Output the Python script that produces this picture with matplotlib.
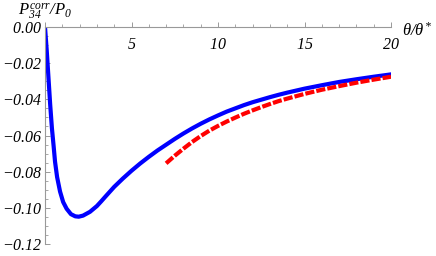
import matplotlib
matplotlib.use("Agg")
import matplotlib.pyplot as plt
from matplotlib.ticker import MultipleLocator, FuncFormatter

# values
theta_full = [0, 0.05, 0.1, 0.19, 0.3, 0.4, 0.5, 0.58, 0.7, 0.87, 1.05, 1.25,
              1.5, 1.75, 1.95, 2.2, 2.6, 3.0, 3.25, 3.5, 4.0, 4.5, 5.0, 5.5,
              6.0, 6.5, 7.0, 7.5, 8.0, 8.5, 9.0, 9.5, 10.0, 10.5, 11.0, 11.5,
              12.0, 12.5, 13.0, 13.5, 14.0, 15.0, 16.0, 17.0, 18.0, 19.0, 20.0]
p_full = [0, -0.0065, -0.013, -0.0265, -0.043, -0.056, -0.066, -0.0745, -0.0830,
          -0.0910, -0.0968, -0.1005, -0.1035, -0.1047, -0.1049, -0.1043, -0.1022,
          -0.0990, -0.0964, -0.0937, -0.0884, -0.0838, -0.0795, -0.0755,
          -0.0718, -0.0683, -0.0651, -0.0619, -0.0589, -0.0561, -0.0535, -0.0511,
          -0.0489, -0.0468, -0.0450, -0.0432, -0.0416, -0.0402, -0.0388, -0.0375,
          -0.0363, -0.0341, -0.0322, -0.0304, -0.0289, -0.0275, -0.0262]

theta_asym = [7.0, 7.5, 8.0, 8.5, 9.0, 9.5, 10.0, 10.5, 11.0, 11.5, 12.0, 12.5,
              13.0, 13.5, 14.0, 15.0, 16.0, 17.0, 18.0, 19.0, 20.0]
p_asym = [-0.0754, -0.0712, -0.0673, -0.0636, -0.0603, -0.0573, -0.0547, -0.0523,
          -0.0501, -0.0480, -0.0461, -0.0443, -0.0426, -0.0410, -0.0396, -0.0370,
          -0.0347, -0.0327, -0.0308, -0.0291, -0.0275]

plt.rcParams['font.family'] = 'Liberation Serif'
plt.rcParams['mathtext.fontset'] = 'custom'
plt.rcParams['mathtext.it'] = 'Liberation Serif:italic'
plt.rcParams['mathtext.rm'] = 'Liberation Serif:italic'

fig = plt.figure(figsize=(4.36, 2.56), dpi=100)
ax = fig.add_axes([45 / 436, 12 / 256, 346 / 436, 217 / 256])

ax.plot(theta_full, p_full, color='blue', lw=3.0, solid_joinstyle='round')
ax.plot(theta_asym, p_asym, color='red', lw=3.0, dashes=(2.2, 0.5),
        dash_capstyle='butt')

ax.set_xlim(0, 20)
ax.set_ylim(-0.12, 0)

gray = '#999999'
ax.spines['top'].set_visible(False)
ax.spines['right'].set_visible(False)
ax.spines['bottom'].set_position(('data', 0))
ax.spines['bottom'].set_color(gray)
ax.spines['left'].set_color(gray)
ax.spines['bottom'].set_linewidth(0.8)
ax.spines['left'].set_linewidth(0.8)

ax.xaxis.set_major_locator(MultipleLocator(5))
ax.xaxis.set_minor_locator(MultipleLocator(1))
ax.yaxis.set_major_locator(MultipleLocator(0.02))
ax.yaxis.set_minor_locator(MultipleLocator(0.005))

ax.xaxis.set_major_formatter(FuncFormatter(lambda v, p: '' if v == 0 else f"${v:.0f}$"))
ax.yaxis.set_major_formatter(FuncFormatter(lambda v, p: f"${v:.2f}$"))

ax.tick_params(axis='x', which='major', direction='in', length=3.5, width=0.7,
               color=gray, pad=7, labelsize=11.5)
ax.tick_params(axis='x', which='minor', direction='in', length=2, width=0.6, color=gray)
ax.tick_params(axis='y', which='major', direction='in', length=3.5, width=0.7,
               color=gray, pad=2, labelsize=11.5)
ax.tick_params(axis='y', which='minor', direction='in', length=2, width=0.6, color=gray)

fig.text(45 / 436, 1 - 12 / 256, r"$P_{34}^{corr}/P_0$", ha='center', va='center', fontsize=12)
fig.text(417 / 436, 1 - 31 / 256, r"$\theta/\theta^{*}$", ha='center', va='center', fontsize=12)

fig.savefig("out.png", dpi=100)
